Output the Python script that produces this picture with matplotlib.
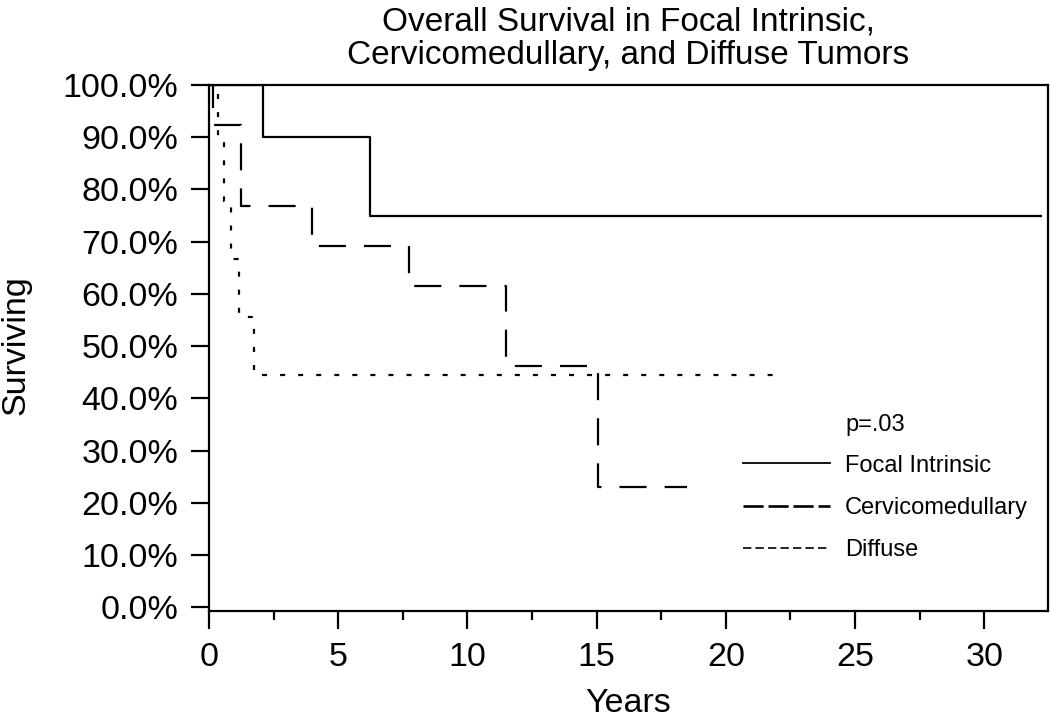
import matplotlib
matplotlib.use("Agg")
import matplotlib.pyplot as plt
from matplotlib.lines import Line2D
from matplotlib.ticker import MultipleLocator, FuncFormatter

plt.rcParams['font.family'] = ['Liberation Sans', 'DejaVu Sans']
plt.rcParams['lines.scale_dashes'] = False

title = "Overall Survival in Focal Intrinsic,\nCervicomedullary, and Diffuse Tumors"
x_label = "Years"
y_label = "Surviving"
p_text = "p=.03"

# Kaplan-Meier step data (years, % surviving)
focal_t = [0.0, 2.1, 6.25, 32.25]
focal_s = [100.0, 90.0, 75.0, 75.0]

cervico_t = [0.0, 0.15, 1.25, 4.0, 7.75, 11.5, 15.05, 18.5]
cervico_s = [100.0, 92.3, 76.9, 69.2, 61.5, 46.2, 23.1, 23.1]

diffuse_t = [0.0, 0.33, 0.58, 0.85, 1.15, 1.75, 22.2]
diffuse_s = [100.0, 88.9, 77.8, 66.7, 55.6, 44.4, 44.4]

series_names = ["Focal Intrinsic", "Cervicomedullary", "Diffuse"]

fig = plt.figure(figsize=(10.5, 7.18), dpi=100)
ax = fig.add_axes([209/1050, 1-611/718, (1048-209)/1050, (611-85)/718])

lw = 1.6
ax.step(focal_t, focal_s, where='post', color='black', lw=lw, solid_capstyle='butt')
ax.step(cervico_t, cervico_s, where='post', color='black', lw=lw,
        linestyle=(0, (19.5, 13)), dash_capstyle='butt')
ax.step(diffuse_t, diffuse_s, where='post', color='black', lw=lw,
        linestyle=(0, (3.6, 9.4)), dash_capstyle='butt')

ax.set_xlim(0, 32.47)
ax.set_ylim(-0.7, 100)
ax.xaxis.set_major_locator(MultipleLocator(5))
ax.xaxis.set_minor_locator(MultipleLocator(2.5))
ax.yaxis.set_major_locator(MultipleLocator(10))
ax.yaxis.set_major_formatter(FuncFormatter(lambda v, p: f"{v:.1f}%"))

for s in ax.spines.values():
    s.set_linewidth(1.6)
ax.tick_params(axis='both', which='major', length=13, width=1.6, labelsize=24.5, pad=9, direction='out')
ax.tick_params(axis='x', which='minor', length=6.5, width=1.6, direction='out')

ax.set_xlabel(x_label, fontsize=24.5)
ax.xaxis.label.set_va('center')
ax.xaxis.set_label_coords(0.5, (611-704)/526)
ax.set_ylabel(y_label, fontsize=24.5)
ax.yaxis.label.set_va('center')
ax.yaxis.set_label_coords((16-209)/839, (611-345)/526)

ax.text(0.5, 1 + (85-39)/526, title, transform=ax.transAxes, ha='center', va='center',
        fontsize=24, linespacing=1.12)

handles = [
    Line2D([], [], color='black', lw=1.3),
    Line2D([], [], color='black', lw=1.9, linestyle=(0, (14.5, 3.5)), dash_capstyle='butt'),
    Line2D([], [], color='black', lw=1.2, linestyle=(0, (6, 3)), dash_capstyle='butt'),
]
ax.legend(handles, series_names, loc='center left', bbox_to_anchor=((743-209)/839, (611-508)/526),
          frameon=False, fontsize=17, handlelength=3.68, handletextpad=0.64,
          labelspacing=0.86, borderpad=0, borderaxespad=0)
ax.text((845-209)/839, (611-425)/526, p_text, transform=ax.transAxes, ha='left', va='center', fontsize=17)

fig.savefig("out.png", dpi=100)
